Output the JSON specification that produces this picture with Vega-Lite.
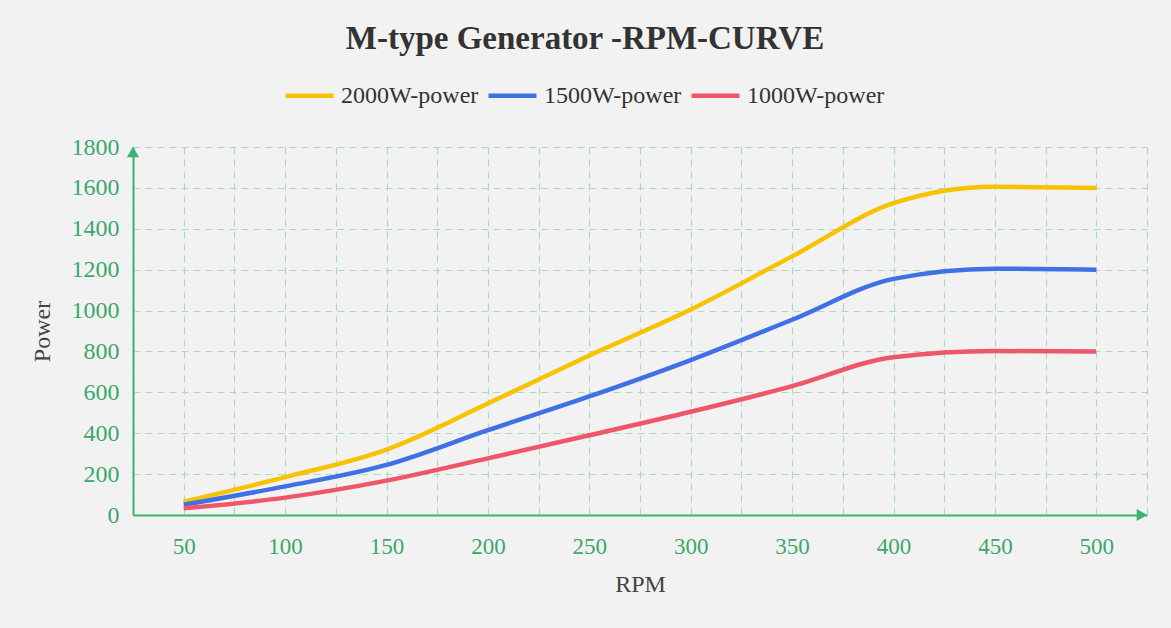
{
  "$schema": "https://vega.github.io/schema/vega-lite/v6.json",
  "description": "M-type generator power against RPM for three ratings.",
  "background": "#f2f2f2",
  "autosize": "none",
  "padding": {"left": 133, "top": 147, "right": 24, "bottom": 113},
  "width": 1014,
  "height": 368,
  "title": {
    "text": "M-type Generator -RPM-CURVE",
    "font": "Liberation Serif",
    "fontSize": 33,
    "fontWeight": "bold",
    "color": "#333333",
    "anchor": "middle",
    "frame": "group",
    "dx": -55,
    "offset": 13
  },
  "config": {
    "view": {"stroke": null},
    "font": "Liberation Serif",
    "style": {
      "guide-label": {"font": "Liberation Serif"},
      "guide-title": {"font": "Liberation Serif"}
    },
    "axis": {"labelFont": "Liberation Serif", "titleFont": "Liberation Serif"}
  },
  "layer": [
    {
      "data": {
        "values": [
          {"rpm": 50, "power": 65, "series": "2000W-power"},
          {"rpm": 100, "power": 185, "series": "2000W-power"},
          {"rpm": 150, "power": 320, "series": "2000W-power"},
          {"rpm": 200, "power": 545, "series": "2000W-power"},
          {"rpm": 250, "power": 780, "series": "2000W-power"},
          {"rpm": 300, "power": 1005, "series": "2000W-power"},
          {"rpm": 350, "power": 1265, "series": "2000W-power"},
          {"rpm": 400, "power": 1525, "series": "2000W-power"},
          {"rpm": 450, "power": 1605, "series": "2000W-power"},
          {"rpm": 500, "power": 1600, "series": "2000W-power"},
          {"rpm": 50, "power": 50, "series": "1500W-power"},
          {"rpm": 100, "power": 140, "series": "1500W-power"},
          {"rpm": 150, "power": 245, "series": "1500W-power"},
          {"rpm": 200, "power": 415, "series": "1500W-power"},
          {"rpm": 250, "power": 580, "series": "1500W-power"},
          {"rpm": 300, "power": 758, "series": "1500W-power"},
          {"rpm": 350, "power": 955, "series": "1500W-power"},
          {"rpm": 400, "power": 1155, "series": "1500W-power"},
          {"rpm": 450, "power": 1205, "series": "1500W-power"},
          {"rpm": 500, "power": 1200, "series": "1500W-power"},
          {"rpm": 50, "power": 33, "series": "1000W-power"},
          {"rpm": 100, "power": 85, "series": "1000W-power"},
          {"rpm": 150, "power": 168, "series": "1000W-power"},
          {"rpm": 200, "power": 277, "series": "1000W-power"},
          {"rpm": 250, "power": 390, "series": "1000W-power"},
          {"rpm": 300, "power": 505, "series": "1000W-power"},
          {"rpm": 350, "power": 630, "series": "1000W-power"},
          {"rpm": 400, "power": 772, "series": "1000W-power"},
          {"rpm": 450, "power": 802, "series": "1000W-power"},
          {"rpm": 500, "power": 800, "series": "1000W-power"}
        ]
      },
      "mark": {"type": "line", "strokeWidth": 4.5, "interpolate": "monotone"},
      "encoding": {
        "x": {
          "field": "rpm",
          "type": "quantitative",
          "title": "RPM",
          "scale": {"domain": [25, 525], "nice": false, "zero": false},
          "axis": {
            "values": [25, 50, 75, 100, 125, 150, 175, 200, 225, 250, 275, 300, 325, 350, 375, 400, 425, 450, 475, 500, 525],
            "labelExpr": "datum.value % 50 == 0 && datum.value <= 500 ? datum.label : ''",
            "format": "d",
            "labelFont": "Liberation Serif",
            "labelFontSize": 23,
            "labelColor": "#3ba86a",
            "labelPadding": 20,
            "titleFont": "Liberation Serif",
            "titleFontSize": 24,
            "titleFontWeight": "normal",
            "titleColor": "#444444",
            "titlePadding": 14,
            "domainColor": "#3cb371",
            "domainWidth": 2,
            "ticks": false,
            "grid": true,
            "gridColor": "#acd9bf",
            "gridDash": [7, 5],
            "gridWidth": 1.2
          }
        },
        "y": {
          "field": "power",
          "type": "quantitative",
          "title": "Power",
          "scale": {"domain": [0, 1800], "nice": false},
          "axis": {
            "values": [0, 200, 400, 600, 800, 1000, 1200, 1400, 1600, 1800],
            "format": "d",
            "labelFont": "Liberation Serif",
            "labelFontSize": 24,
            "labelColor": "#3ba86a",
            "labelPadding": 14,
            "titleFont": "Liberation Serif",
            "titleFontSize": 24,
            "titleFontWeight": "normal",
            "titleColor": "#444444",
            "titlePadding": 17,
            "domainColor": "#3cb371",
            "domainWidth": 2,
            "ticks": false,
            "grid": true,
            "gridColor": "#acd9bf",
            "gridDash": [7, 5],
            "gridWidth": 1.2
          }
        },
        "color": {
          "field": "series",
          "type": "nominal",
          "scale": {
            "domain": ["2000W-power", "1500W-power", "1000W-power"],
            "range": ["#f7c300", "#3f70e4", "#ef5669"]
          },
          "legend": {
            "title": null,
            "orient": "none",
            "direction": "horizontal",
            "legendX": 150,
            "legendY": -78,
            "symbolType": "stroke",
            "symbolSize": 2300,
            "symbolStrokeWidth": 4.5,
            "labelFont": "Liberation Serif",
            "labelFontSize": 24,
            "labelColor": "#333333",
            "labelOffset": 5,
            "columnPadding": 0
          }
        }
      }
    },
    {
      "data": {"values": [{"rpm": 25, "power": 1800}]},
      "mark": {"type": "point", "shape": "triangle-up", "filled": true, "opacity": 1, "size": 150, "color": "#3cb371", "yOffset": 5},
      "encoding": {
        "x": {"field": "rpm", "type": "quantitative"},
        "y": {"field": "power", "type": "quantitative"}
      }
    },
    {
      "data": {"values": [{"rpm": 525, "power": 0}]},
      "mark": {"type": "point", "shape": "triangle-right", "filled": true, "opacity": 1, "size": 150, "color": "#3cb371", "xOffset": -5},
      "encoding": {
        "x": {"field": "rpm", "type": "quantitative"},
        "y": {"field": "power", "type": "quantitative"}
      }
    }
  ]
}
